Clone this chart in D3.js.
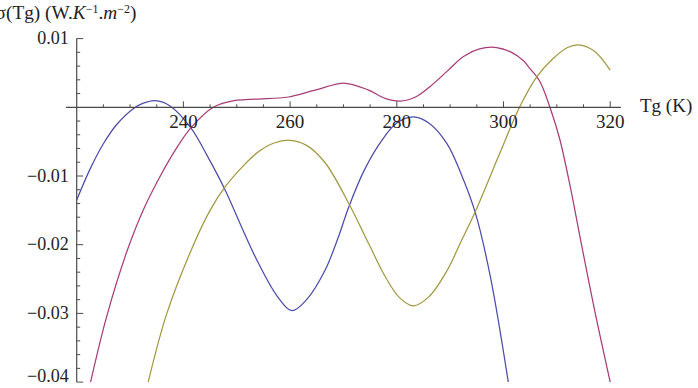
<!DOCTYPE html>
<html>
<head>
<meta charset="utf-8">
<script src="https://cdn.jsdelivr.net/npm/d3@7"></script>
<style>
  html, body { margin: 0; padding: 0; background: #fff; }
  svg text { font-family: "Liberation Serif", "DejaVu Serif", serif; fill: #222; }
</style>
</head>
<body>
<svg id="chart" width="698" height="388"></svg>
<script>
// --- data (Tg in K, sigma in W.K^-1.m^-2) ---
const blueTg    = [220, 222.5, 225, 227.5, 230.6, 232.5, 234.7, 237.5, 241.4, 244.5, 247.8, 251, 254, 257.5, 260.3, 263.1, 266.5, 269, 271, 274, 277.3, 280, 283.1, 286, 289.4, 292, 294.7, 297.5, 300.9];
const blueSigma = [-0.0135, -0.0090, -0.0053, -0.0025, -0.0002, 0.0006, 0.00096, 0.0002, -0.0030, -0.0071, -0.0120, -0.0176, -0.0226, -0.0274, -0.0296, -0.0280, -0.0238, -0.0190, -0.0145, -0.0090, -0.0047, -0.0023, -0.0014, -0.0023, -0.0053, -0.0096, -0.0153, -0.0245, -0.0400];

const magentaTg    = [222.6, 225.6, 229.4, 232.5, 235.6, 238.5, 241.4, 245.6, 249.7, 254.0, 259.7, 264.7, 270.3, 274.7, 277.8, 280.6, 283.5, 286.2, 289.5, 292.5, 295.5, 298.7, 301.5, 303.7, 305.0, 306.8, 308.7, 310.5, 312.5, 314.5, 317.2, 320];
const magentaSigma = [-0.0400, -0.0305, -0.0210, -0.0149, -0.0101, -0.0062, -0.0030, 0, 0.0010, 0.0012, 0.0015, 0.0025, 0.0035, 0.0025, 0.0013, 0.0009, 0.0015, 0.0030, 0.0053, 0.0074, 0.0085, 0.0087, 0.0080, 0.0068, 0.0056, 0.0038, 0, -0.0045, -0.0115, -0.0195, -0.0300, -0.0400];

const oliveTg    = [233.4, 236.9, 241.9, 245.0, 247.8, 251, 254.0, 257, 260.0, 263, 266.5, 271.0, 274.7, 277.8, 280.5, 283.1, 286, 289.4, 292, 294.7, 299.3, 303.0, 306.3, 309.3, 312, 314.0, 317, 320];
const oliveSigma = [-0.0400, -0.0300, -0.0200, -0.0150, -0.0116, -0.0087, -0.0065, -0.0052, -0.0048, -0.0055, -0.0080, -0.0140, -0.0198, -0.0246, -0.0277, -0.0289, -0.0276, -0.0238, -0.0196, -0.0152, -0.0067, 0, 0.0045, 0.0071, 0.0087, 0.0091, 0.0082, 0.0054];

const xMajorTicks = [240, 260, 280, 300, 320];
const yMajorTicks = [-0.04, -0.03, -0.02, -0.01, 0.01];

const series = [
  { tg: blueTg, sigma: blueSigma, color: "#4c4caa" },
  { tg: magentaTg, sigma: magentaSigma, color: "#a83c78" },
  { tg: oliveTg, sigma: oliveSigma, color: "#a29842" },
];

const svg = d3.select("#chart");
const axisColor = "#4a4a4a";

// scales (Mathematica-style axes crossing at (220, 0))
const x = d3.scaleLinear().domain([220, 320]).range([76.7, 610.2]);
const y = d3.scaleLinear().domain([-0.04, 0.01]).range([382.1, 38.6]);

// clip for the curves
svg.append("defs").append("clipPath").attr("id", "plot-clip")
  .append("rect")
  .attr("x", x(220)).attr("y", 0)
  .attr("width", x(320) - x(220) + 2)
  .attr("height", y(-0.04) + 0.5);

// curves
const line = d3.line()
  .x((d) => x(d[0]))
  .y((d) => y(d[1]))
  .curve(d3.curveCatmullRom.alpha(0.5));

svg.append("g")
  .attr("clip-path", "url(#plot-clip)")
  .selectAll("path")
  .data(series)
  .join("path")
  .attr("d", (s) => line(d3.zip(s.tg, s.sigma)))
  .attr("fill", "none")
  .attr("stroke", (s) => s.color)
  .attr("stroke-width", 1.25);

// x axis at sigma = 0
const xAxisG = svg.append("g").attr("transform", `translate(0,${y(0)})`);
xAxisG.append("line")
  .attr("x1", x(218)).attr("x2", x(322))
  .attr("stroke", axisColor).attr("stroke-width", 1.2);

const xMinor = d3.range(225, 321, 5).filter((t) => !xMajorTicks.includes(t));
xAxisG.selectAll(".x-minor")
  .data(xMinor)
  .join("line")
  .attr("class", "x-minor")
  .attr("x1", (d) => x(d)).attr("x2", (d) => x(d))
  .attr("y1", 0).attr("y2", -3)
  .attr("stroke", axisColor).attr("stroke-width", 1);

xAxisG.selectAll(".x-major")
  .data(xMajorTicks)
  .join("line")
  .attr("class", "x-major")
  .attr("x1", (d) => x(d)).attr("x2", (d) => x(d))
  .attr("y1", 0).attr("y2", -6)
  .attr("stroke", axisColor).attr("stroke-width", 1);

xAxisG.selectAll(".x-label")
  .data(xMajorTicks)
  .join("text")
  .attr("class", "x-label")
  .attr("x", (d) => x(d))
  .attr("y", 21)
  .attr("text-anchor", "middle")
  .attr("font-size", 19)
  .text((d) => d);

svg.append("text")
  .attr("x", 640)
  .attr("y", y(0) + 5)
  .attr("font-size", 19)
  .text("Tg (K)");

// y axis at Tg = 220
const yAxisG = svg.append("g").attr("transform", `translate(${x(220)},0)`);
yAxisG.append("line")
  .attr("y1", y(0.01)).attr("y2", y(-0.04))
  .attr("stroke", axisColor).attr("stroke-width", 1.2);

const yMinor = d3.range(-20, 6).map((k) => k * 0.002)
  .filter((v) => Math.abs(v) > 1e-9 && !yMajorTicks.some((t) => Math.abs(t - v) < 1e-9));
yAxisG.selectAll(".y-minor")
  .data(yMinor)
  .join("line")
  .attr("class", "y-minor")
  .attr("x1", 0).attr("x2", 3.5)
  .attr("y1", (d) => y(d)).attr("y2", (d) => y(d))
  .attr("stroke", axisColor).attr("stroke-width", 1);

yAxisG.selectAll(".y-major")
  .data(yMajorTicks)
  .join("line")
  .attr("class", "y-major")
  .attr("x1", 0).attr("x2", 6.5)
  .attr("y1", (d) => y(d)).attr("y2", (d) => y(d))
  .attr("stroke", axisColor).attr("stroke-width", 1);

// bottom label is nudged up so it stays inside the picture, as in the original
const fmt = d3.format(".2f");
yAxisG.selectAll(".y-label")
  .data(yMajorTicks)
  .join("text")
  .attr("class", "y-label")
  .attr("x", -8)
  .attr("y", (d) => (d === -0.04 ? y(d) - 0.6 : y(d) + 5.5))
  .attr("text-anchor", "end")
  .attr("font-size", 18)
  .text((d) => fmt(d));

// y axis title, centred near the axis (its left end runs off the edge like the original)
const title = svg.append("text")
  .attr("x", 66)
  .attr("y", 19)
  .attr("text-anchor", "middle")
  .attr("font-size", 19.3);
title.append("tspan").text("\u03C3(Tg) (W.");
title.append("tspan").attr("font-style", "italic").text("K");
title.append("tspan").attr("font-size", 12).attr("dy", -6).text("\u22121");
title.append("tspan").attr("dy", 6).text(".");
title.append("tspan").attr("font-style", "italic").text("m");
title.append("tspan").attr("font-size", 12).attr("dy", -6).text("\u22122");
title.append("tspan").attr("dy", 6).text(")");
</script>
</body>
</html>
